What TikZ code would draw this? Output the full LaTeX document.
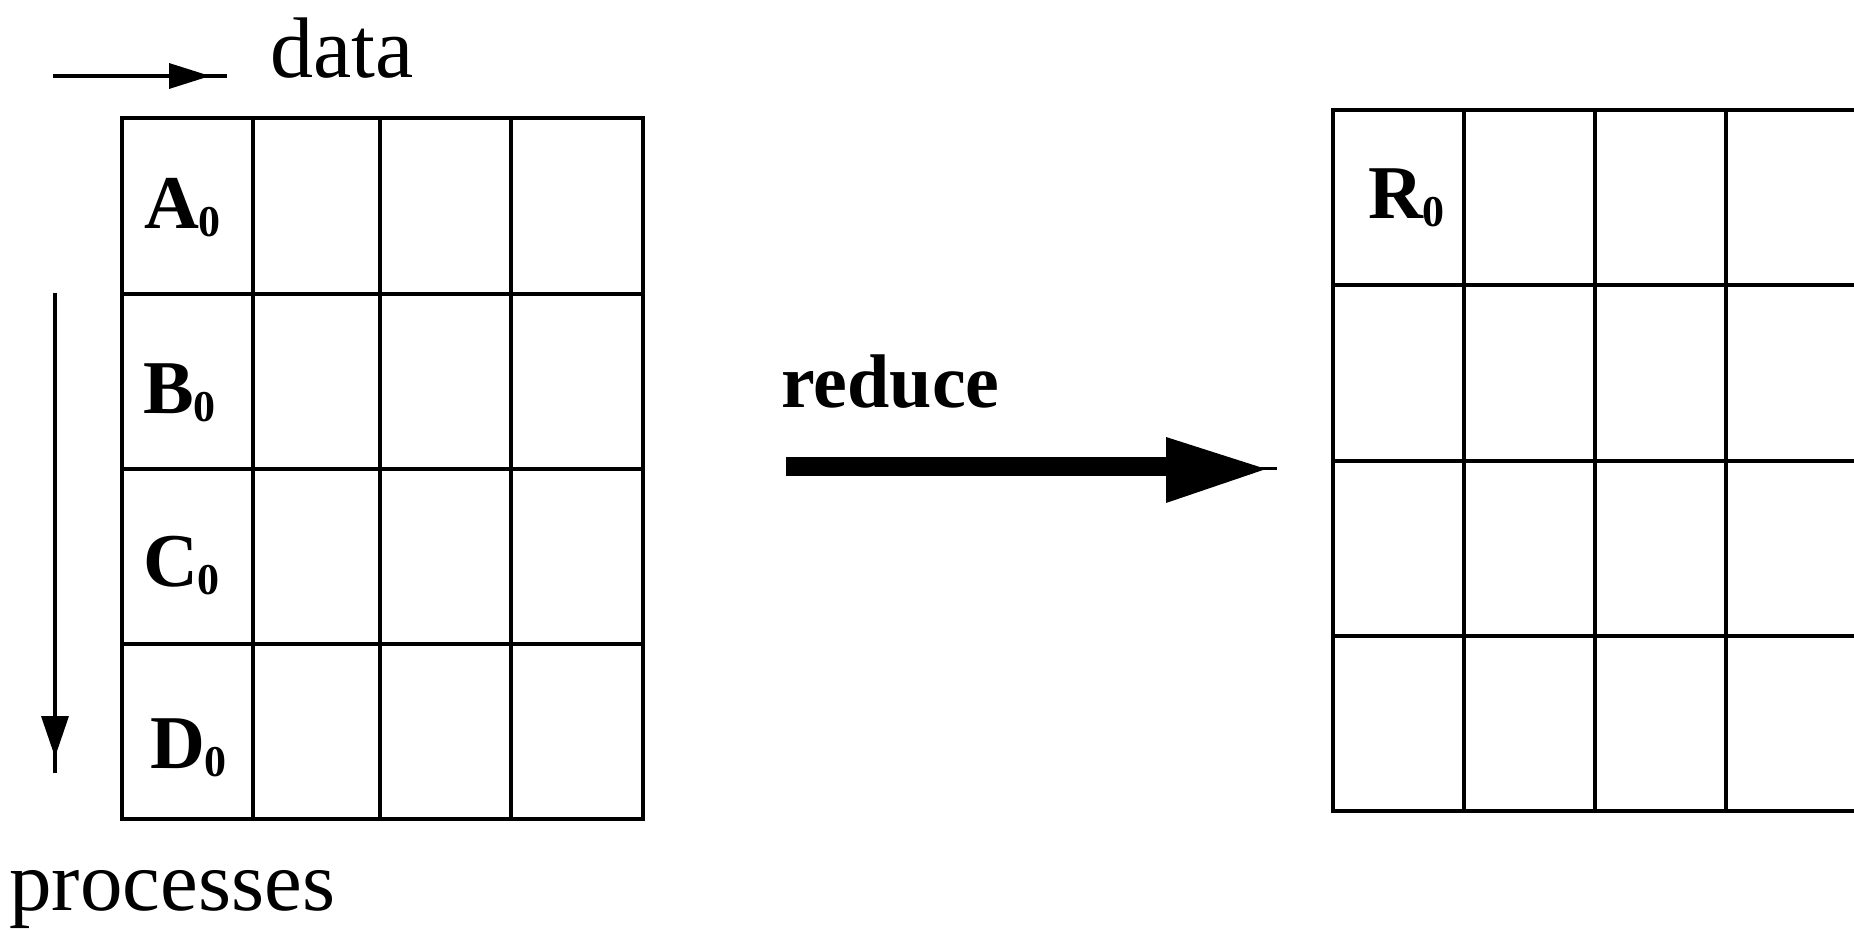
\documentclass[tikz,border=0pt]{standalone}
\usepackage{fontspec}
\setmainfont{Liberation Serif}
\newcommand{\cellname}[1]{{\fontsize{38}{38}\selectfont\bfseries #1}\raisebox{-4pt}{\fontsize{22}{22}\selectfont\bfseries 0}}
\tikzset{
  gridline/.style={line width=2pt, line cap=rect},
  thinarrow/.style={line width=2pt},
  headfill/.style={fill=black, draw=none},
  lbl/.style={anchor=base west, inner sep=0pt, outer sep=0pt},
  bigtext/.style={anchor=base west, inner sep=0pt, font=\fontsize{43}{43}\selectfont},
  redtext/.style={anchor=base west, inner sep=0pt, font=\fontsize{38}{38}\selectfont\bfseries}
}
\begin{document}
\begin{tikzpicture}[x=0.5pt, y=-0.5pt]
\useasboundingbox (0,0) rectangle (1854,930);
\fill[white] (0,0) rectangle (1854,930);
\clip (0,0) rectangle (1854,930);

% left grid
\foreach \yy in {118,294,469,644,819} \draw[gridline] (122,\yy) -- (643,\yy);
\foreach \xx in {122,253,380,511,643} \draw[gridline] (\xx,118) -- (\xx,819);

% right grid (cut off at the right edge)
\foreach \yy in {110,285,461,636,811} \draw[gridline] (1333,\yy) -- (1870,\yy);
\foreach \xx in {1333,1464,1595,1726,1858} \draw[gridline] (\xx,110) -- (\xx,811);

% cell labels
\node[lbl] (A0) at (144,229) {\cellname{A}};
\node[lbl] (B0) at (143,414) {\cellname{B}};
\node[lbl] (C0) at (143,587) {\cellname{C}};
\node[lbl] (D0) at (150,768) {\cellname{D}};
\node[lbl] (R0) at (1368,219) {\cellname{R}};

% data arrow
\coordinate (dataS) at (53,76);
\coordinate (dataE) at (227,76);
\draw[thinarrow] (dataS) -- (dataE);
\fill[headfill] (169,63) -- (169,89) -- (210,76) -- cycle;
\node[bigtext] (data) at (270,78) {data};

% processes arrow
\coordinate (procS) at (55,293);
\coordinate (procE) at (55,773);
\draw[thinarrow] (procS) -- (procE);
\fill[headfill] (41,716) -- (69,716) -- (55,757) -- cycle;
\node[bigtext, font=\fontsize{42.5}{43}\selectfont] (processes) at (9,910) {processes};

% reduce arrow
\coordinate (redS) at (786,467);
\coordinate (redM) at (1170,467);
\coordinate (redE) at (1277,469);
\draw[line width=9.5pt] (redS) -- (redM);
\draw[line width=1.5pt] (1250,469) -- (redE);
\fill[headfill] (1166,437) -- (1166,503) -- (1266,469) -- cycle;
\node[redtext] (reduce) at (781,408) {reduce};
\end{tikzpicture}
\end{document}
